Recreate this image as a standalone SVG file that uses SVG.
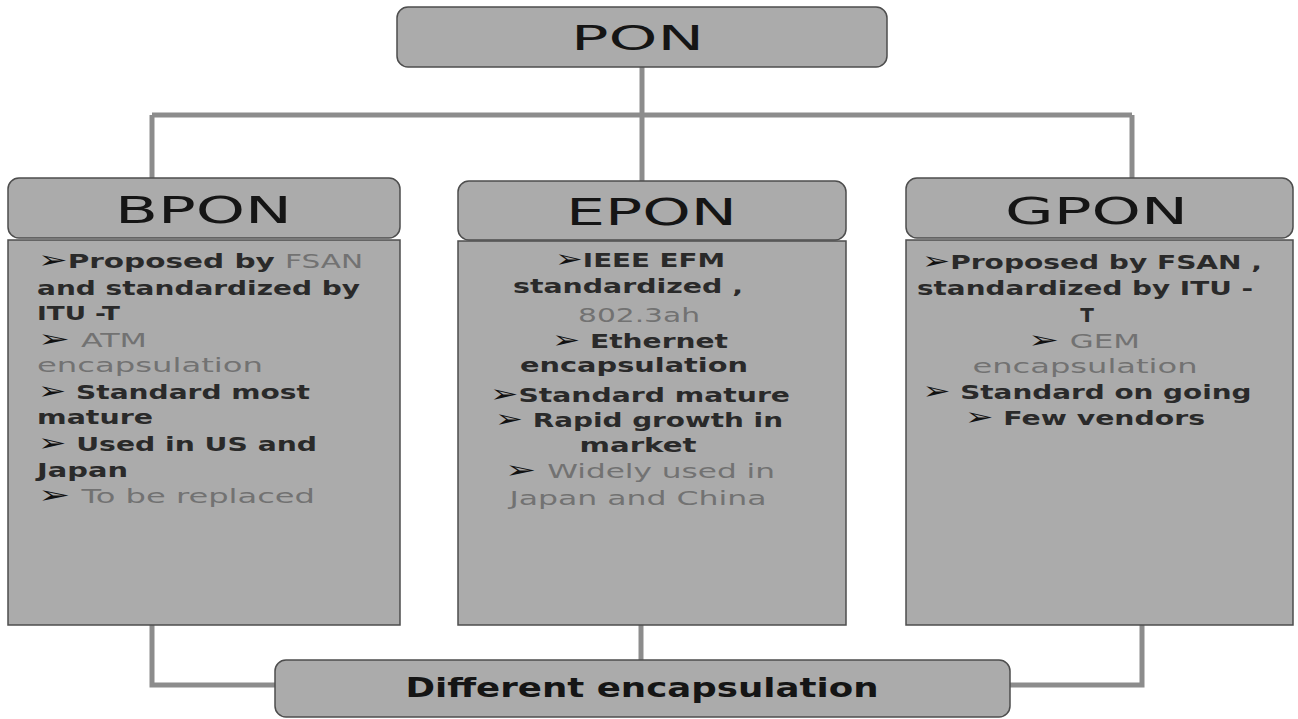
<svg xmlns="http://www.w3.org/2000/svg" width="1298" height="719" viewBox="0 0 1298 719">
  <style>
    .box { fill: #ababab; stroke: #4d4d4d; stroke-width: 1.5; }
    .conn { stroke: #8c8c8c; stroke-width: 5; fill: none; }
    .hdr { font-family: "DejaVu Sans", "Liberation Sans", sans-serif; fill: #151515; text-anchor: middle; }
    .txt { font-family: "DejaVu Sans", "Liberation Sans", sans-serif; font-size: 20px; font-weight: bold; fill: #2a2a2a; }
    .mid { text-anchor: middle; }
    .g { fill: #727272; font-weight: normal; }
    .b { fill: #111111; font-size: 24px; font-weight: bold; }
  </style>
  <rect width="1298" height="719" fill="#ffffff"/>

  <!-- connectors: PON fan-out on top, encapsulation join below -->
  <g id="connectors">
    <path class="conn" d="M642 67 V181"/>
    <path class="conn" d="M152 115 H1132"/>
    <path class="conn" d="M152 115 V178"/>
    <path class="conn" d="M1132 115 V178"/>
    <path class="conn" d="M152 625 V685 H275"/>
    <path class="conn" d="M641 625 V660"/>
    <path class="conn" d="M1142 625 V685 H1010"/>
  </g>

  <g id="pon">
    <rect class="box" x="397" y="7" width="490" height="60" rx="11"/>
    <text class="hdr" x="637.5" y="50" font-size="34" textLength="133" lengthAdjust="spacingAndGlyphs">PON</text>
  </g>

  <g id="bpon">
    <rect class="box" x="8" y="178" width="392" height="60" rx="11"/>
    <text class="hdr" x="203.5" y="223" font-size="37" textLength="177" lengthAdjust="spacingAndGlyphs">BPON</text>
    <rect class="box" x="8" y="240" width="392" height="385"/>
    <text class="txt" x="38" y="268" textLength="325" lengthAdjust="spacingAndGlyphs"><tspan class="b">➢</tspan>Proposed by <tspan class="g">FSAN</tspan></text>
    <text class="txt" x="37" y="295" textLength="323" lengthAdjust="spacingAndGlyphs">and standardized by</text>
    <text class="txt" x="37" y="320" textLength="83" lengthAdjust="spacingAndGlyphs">ITU -T</text>
    <text class="txt" x="38" y="347" textLength="109" lengthAdjust="spacingAndGlyphs"><tspan class="b">➢</tspan> <tspan class="g">ATM</tspan></text>
    <text class="txt g" x="37" y="372" textLength="226" lengthAdjust="spacingAndGlyphs">encapsulation</text>
    <text class="txt" x="38" y="399" textLength="272" lengthAdjust="spacingAndGlyphs"><tspan class="b">➢</tspan> Standard most</text>
    <text class="txt" x="37" y="424" textLength="116" lengthAdjust="spacingAndGlyphs">mature</text>
    <text class="txt" x="38" y="451" textLength="279" lengthAdjust="spacingAndGlyphs"><tspan class="b">➢</tspan> Used in US and</text>
    <text class="txt" x="37" y="477" textLength="91" lengthAdjust="spacingAndGlyphs">Japan</text>
    <text class="txt" x="38" y="503" textLength="277" lengthAdjust="spacingAndGlyphs"><tspan class="b">➢</tspan> <tspan class="g">To be replaced</tspan></text>
  </g>

  <g id="epon">
    <rect class="box" x="458" y="181" width="388" height="59" rx="11"/>
    <text class="hdr" x="651.5" y="225" font-size="37" textLength="171" lengthAdjust="spacingAndGlyphs">EPON</text>
    <rect class="box" x="458" y="241" width="388" height="384"/>
    <text class="txt mid" x="640" y="267" textLength="170" lengthAdjust="spacingAndGlyphs"><tspan class="b">➢</tspan>IEEE EFM</text>
    <text class="txt mid" x="628" y="293" textLength="230" lengthAdjust="spacingAndGlyphs">standardized ,</text>
    <text class="txt mid g" x="639" y="322" textLength="122" lengthAdjust="spacingAndGlyphs">802.3ah</text>
    <text class="txt mid" x="640" y="348" textLength="176" lengthAdjust="spacingAndGlyphs"><tspan class="b">➢</tspan> Ethernet</text>
    <text class="txt mid" x="634" y="372" textLength="228" lengthAdjust="spacingAndGlyphs">encapsulation</text>
    <text class="txt mid" x="640" y="402" textLength="300" lengthAdjust="spacingAndGlyphs"><tspan class="b">➢</tspan>Standard mature</text>
    <text class="txt mid" x="639" y="427" textLength="288" lengthAdjust="spacingAndGlyphs"><tspan class="b">➢</tspan> Rapid growth in</text>
    <text class="txt mid" x="638" y="452" textLength="117" lengthAdjust="spacingAndGlyphs">market</text>
    <text class="txt mid" x="640" y="478" textLength="270" lengthAdjust="spacingAndGlyphs"><tspan class="b">➢</tspan> <tspan class="g">Widely used in</tspan></text>
    <text class="txt mid g" x="638" y="505" textLength="257" lengthAdjust="spacingAndGlyphs">Japan and China</text>
  </g>

  <g id="gpon">
    <rect class="box" x="906" y="178" width="387" height="60" rx="11"/>
    <text class="hdr" x="1096.5" y="224" font-size="37" textLength="183" lengthAdjust="spacingAndGlyphs">GPON</text>
    <rect class="box" x="906" y="240" width="387" height="385"/>
    <text class="txt mid" x="1092" y="269" textLength="340" lengthAdjust="spacingAndGlyphs"><tspan class="b">➢</tspan>Proposed by FSAN ,</text>
    <text class="txt mid" x="1085" y="295" textLength="336" lengthAdjust="spacingAndGlyphs">standardized by ITU -</text>
    <text class="txt mid" x="1087" y="322">T</text>
    <text class="txt mid" x="1084" y="348" textLength="112" lengthAdjust="spacingAndGlyphs"><tspan class="b">➢</tspan> <tspan class="g">GEM</tspan></text>
    <text class="txt mid g" x="1085" y="373" textLength="225" lengthAdjust="spacingAndGlyphs">encapsulation</text>
    <text class="txt mid" x="1087" y="399" textLength="329" lengthAdjust="spacingAndGlyphs"><tspan class="b">➢</tspan> Standard on going</text>
    <text class="txt mid" x="1085" y="425" textLength="240" lengthAdjust="spacingAndGlyphs"><tspan class="b">➢</tspan> Few vendors</text>
  </g>

  <g id="encapsulation">
    <rect class="box" x="275" y="660" width="735" height="57" rx="11"/>
    <text class="hdr" x="642" y="697" font-size="27" font-weight="bold" textLength="473" lengthAdjust="spacingAndGlyphs">Different encapsulation</text>
  </g>
</svg>
